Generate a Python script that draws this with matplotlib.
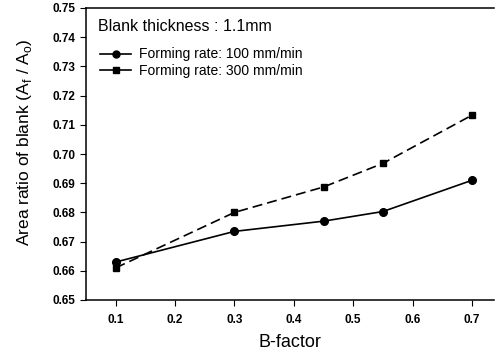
import matplotlib
matplotlib.use("Agg")
import matplotlib.pyplot as plt
from matplotlib.lines import Line2D

b_factor = [0.1, 0.3, 0.45, 0.55, 0.7]
rate_100 = [0.663, 0.6735, 0.677, 0.6803, 0.691]
rate_300 = [0.661, 0.680, 0.6887, 0.6968, 0.7133]
xticks = [0.1, 0.2, 0.3, 0.4, 0.5, 0.6, 0.7]
yticks = [0.65, 0.66, 0.67, 0.68, 0.69, 0.70, 0.71, 0.72, 0.73, 0.74, 0.75]

plt.rcParams['font.family'] = ['Liberation Sans', 'DejaVu Sans']
W, H = 497, 358
fig = plt.figure(figsize=(W/100, H/100), dpi=100)
left, right, top, bottom = 86, 494, 8, 300
ax = fig.add_axes([left/W, 1-bottom/H, (right-left)/W, (bottom-top)/H])

ax.plot(b_factor, rate_100, '-', color='black', lw=1.2, marker='o', ms=5.5,
        label='Forming rate: 100 mm/min')
ax.plot(b_factor, rate_300, '--', color='black', lw=1.2, marker='s', ms=4.5,
        dashes=(6, 3), label='Forming rate: 300 mm/min')

ax.set_xlim(0.05, 0.737)
ax.set_ylim(0.65, 0.75)
ax.set_xticks(xticks)
ax.set_xticklabels([f"{v:.1f}" for v in xticks])
ax.set_yticks(yticks)
ax.set_yticklabels([f"{v:.2f}" for v in yticks])
for lab in ax.get_xticklabels() + ax.get_yticklabels():
    lab.set_fontweight('bold')
ax.tick_params(labelsize=8.5, direction='out', length=4, width=0.8)
ax.tick_params(axis='x', pad=6)
ax.spines['right'].set_visible(False)
for s in ax.spines.values():
    s.set_linewidth(1.1)

ax.set_xlabel('B-factor', fontsize=13, labelpad=6)
ax.set_ylabel('Area ratio of blank (A$_\\mathregular{f}$ / A$_\\mathregular{o}$)', fontsize=12.5)
ax.yaxis.set_label_coords(-0.128, 0.54)

ax.text(0.029, 0.935, 'Blank thickness : 1.1mm', transform=ax.transAxes,
        fontsize=11.5, va='center', ha='left')

handles = [Line2D([], [], color='black', lw=1.2, marker='o', ms=5),
           Line2D([], [], color='black', lw=1.2, marker='s', ms=4.5)]
ax.legend(handles, ['Forming rate: 100 mm/min', 'Forming rate: 300 mm/min'],
          loc='upper left', bbox_to_anchor=(0.035, 0.865), frameon=False,
          fontsize=10, handlelength=2.2, handletextpad=0.6, labelspacing=0.15,
          borderaxespad=0, borderpad=0)

fig.savefig('out.png', dpi=100)
